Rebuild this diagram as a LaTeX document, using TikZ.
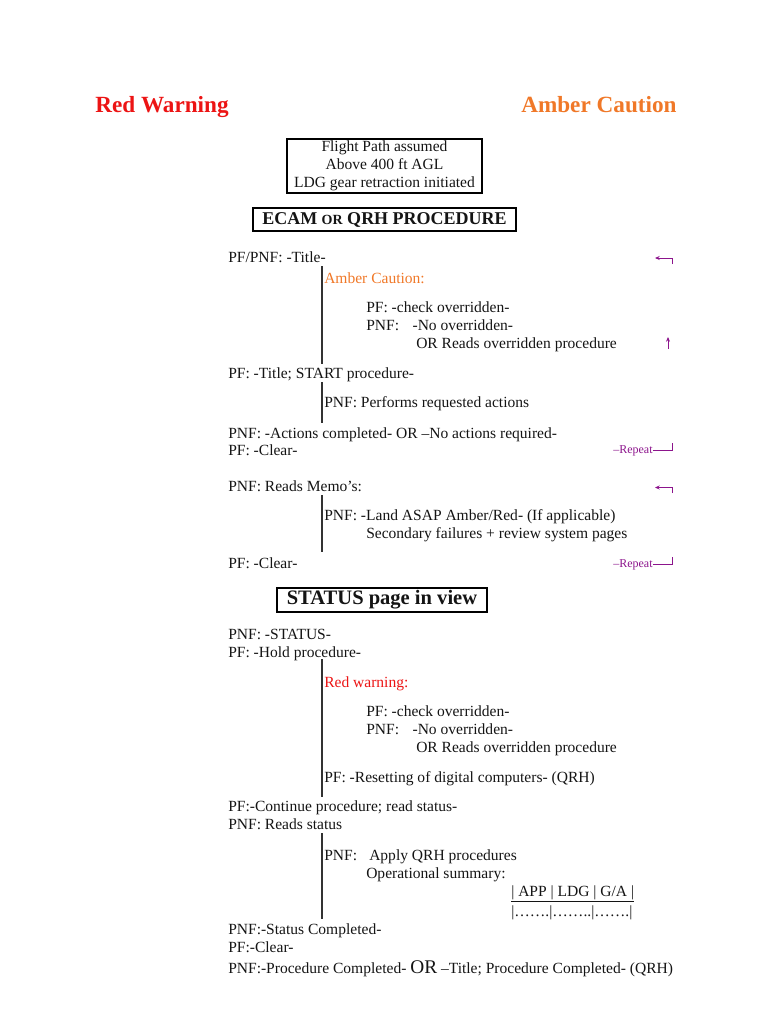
\documentclass[tikz,border=0pt]{standalone}
\usepackage{fontspec}
\setmainfont{Liberation Serif}
\usepackage{tikz}
\usetikzlibrary{
  arrows.meta
}
\definecolor{warncolor}{RGB}{236,20,20}
\definecolor{cautioncolor}{RGB}{240,120,40}
\definecolor{repeatcolor}{RGB}{140,20,140}
\definecolor{barcolor}{RGB}{50,50,50}
\definecolor{textcolor}{RGB}{20,20,20}
\newcommand{\bodyfont}{\fontsize{11.65}{13.5}\selectfont}
\newcommand{\tabbox}[1]{\makebox[33.75pt][l]{#1}}
\tikzset{
steptext/.style={
  anchor=base west,
  inner sep=0pt,
  font=\bodyfont,
  text=textcolor
},
headline/.style={
  anchor=base west,
  inner sep=0pt,
  font=\fontsize{17.4}{20}\selectfont\bfseries
},
framebox/.style={
  draw=black,
  inner sep=0pt,
  align=center,
  text=textcolor
},
bar/.style={
  draw=barcolor,
  line width=0.8pt
},
repeattext/.style={
  anchor=base west,
  inner sep=0pt,
  font=\fontsize{9}{10}\selectfont,
  text=repeatcolor
},
loopline/.style={
  draw=repeatcolor,
  line width=0.6pt
},
looparrow/.style={
  loopline,
  -{Stealth[length=3.5pt,width=3pt]}
}
}

\begin{document}
\begin{tikzpicture}[x=0.75pt, y=-0.75pt]
\useasboundingbox (0,0) rectangle (768,1024);

% ============================================================================
% Titles
% ============================================================================
\node[headline, text=warncolor] (title_red) at (95, 112.5) {Red Warning};
\node[headline, text=cautioncolor] (title_amber) at (521, 112.5) {Amber Caution};

\node[framebox, line width=0.8pt, font=\bodyfont,
      minimum width=146.25pt, minimum height=40.5pt] (cond_box) at (384.5, 166) {
    Flight Path assumed\\
    Above 400 ft AGL\\
    LDG gear retraction initiated
};

\node[framebox, line width=1.3pt, minimum width=197.25pt, minimum height=17.25pt,
      font=\fontsize{13.5}{15}\selectfont\bfseries] (ecam_box) at (384.5, 219.5)
    {ECAM {\fontsize{10.5}{12}\selectfont OR} QRH PROCEDURE};

% ============================================================================
% ECAM procedure
% ============================================================================
\node[steptext] (title_call) at (228, 262) {PF/PNF: -Title-};
\node[steptext, text=cautioncolor] (amber_label) at (324, 283) {Amber Caution:};
\node[steptext] (amber_pf) at (366, 312) {PF: -check overridden-};
\node[steptext] (amber_pnf) at (366, 330) {\tabbox{PNF:}\hspace{1pt}-No overridden-};
\node[steptext] (amber_or) at (416, 348) {OR Reads overridden procedure};
\node[steptext] (start_proc) at (228, 378) {PF: -Title; START procedure-};
\node[steptext] (perform) at (324, 407) {PNF: Performs requested actions};
\node[steptext] (actions_done) at (228, 438) {PNF: -Actions completed- OR –No actions required-};
\node[steptext] (clear_a) at (228, 455) {PF: -Clear-};
\node[steptext] (memos) at (228, 491) {PNF: Reads Memo’s:};
\node[steptext] (land_asap) at (324, 520) {PNF: -Land ASAP Amber/Red- (If applicable)};
\node[steptext] (secondary) at (366, 538) {Secondary failures + review system pages};
\node[steptext] (clear_b) at (228, 568) {PF: -Clear-};

% bars
\coordinate (bar_a_top) at (322, 266);
\coordinate (bar_a_bot) at (322, 364);
\coordinate (bar_b_top) at (322, 382);
\coordinate (bar_b_bot) at (322, 423);
\coordinate (bar_c_top) at (322, 495);
\coordinate (bar_c_bot) at (322, 552);
\draw[bar] (bar_a_top) -- (bar_a_bot);
\draw[bar] (bar_b_top) -- (bar_b_bot);
\draw[bar] (bar_c_top) -- (bar_c_bot);

% repeat marks
\coordinate (back_a_from) at (672.5, 264);
\coordinate (back_a_to) at (655, 258);
\draw[looparrow] (back_a_from) |- (back_a_to);
\coordinate (up_a_from) at (668, 349);
\coordinate (up_a_to) at (668, 337);
\draw[looparrow] (up_a_from) -- (up_a_to);
\node[repeattext] (repeat_a) at (613, 453.5) {–Repeat};
\coordinate (repeat_a_end) at (672.5, 443);
\draw[loopline] ([yshift=2.4pt]repeat_a.base east) -| (repeat_a_end);

\coordinate (back_b_from) at (672.5, 493);
\coordinate (back_b_to) at (655, 487.5);
\draw[looparrow] (back_b_from) |- (back_b_to);
\node[repeattext] (repeat_b) at (613, 567.5) {–Repeat};
\coordinate (repeat_b_end) at (672.5, 557);
\draw[loopline] ([yshift=2.4pt]repeat_b.base east) -| (repeat_b_end);

% ============================================================================
% STATUS page
% ============================================================================
\node[framebox, line width=1.3pt, minimum width=157.5pt, minimum height=18pt,
      font=\fontsize{15.4}{17}\selectfont\bfseries] (status_box) at (382, 600)
    {STATUS page in view};

\node[steptext] (status_call) at (228, 639) {PNF: -STATUS-};
\node[steptext] (hold) at (228, 657) {PF: -Hold procedure-};
\node[steptext, text=warncolor] (red_label) at (324, 687) {Red warning:};
\node[steptext] (red_pf) at (366, 716) {PF: -check overridden-};
\node[steptext] (red_pnf) at (366, 734) {\tabbox{PNF:}\hspace{1pt}-No overridden-};
\node[steptext] (red_or) at (416, 752) {OR Reads overridden procedure};
\node[steptext] (reset) at (324, 782) {PF: -Resetting of digital computers- (QRH)};
\node[steptext] (continue) at (228, 811) {PF:-Continue procedure; read status-};
\node[steptext] (read_status) at (228, 829) {PNF: Reads status};
\node[steptext] (apply_qrh) at (324, 860) {\tabbox{PNF:}Apply QRH procedures};
\node[steptext] (op_summary) at (366, 878) {Operational summary:};
\node[steptext] (sum_head) at (511, 896) {\underline{| APP | LDG | G/A |}};
\node[steptext] (sum_row) at (511, 916) {|…….|……..|…….|};
\node[steptext] (status_done) at (228, 934) {PNF:-Status Completed-};
\node[steptext] (clear_c) at (228, 952) {PF:-Clear-};
\node[steptext] (proc_done) at (228, 973)
    {PNF:-Procedure Completed- {\fontsize{14.5}{16}\selectfont OR} –Title; Procedure Completed- (QRH)};

% bars
\coordinate (bar_d_top) at (322, 659);
\coordinate (bar_d_bot) at (322, 797);
\coordinate (bar_e_top) at (322, 833);
\coordinate (bar_e_bot) at (322, 919);
\draw[bar] (bar_d_top) -- (bar_d_bot);
\draw[bar] (bar_e_top) -- (bar_e_bot);

\end{tikzpicture}
\end{document}
